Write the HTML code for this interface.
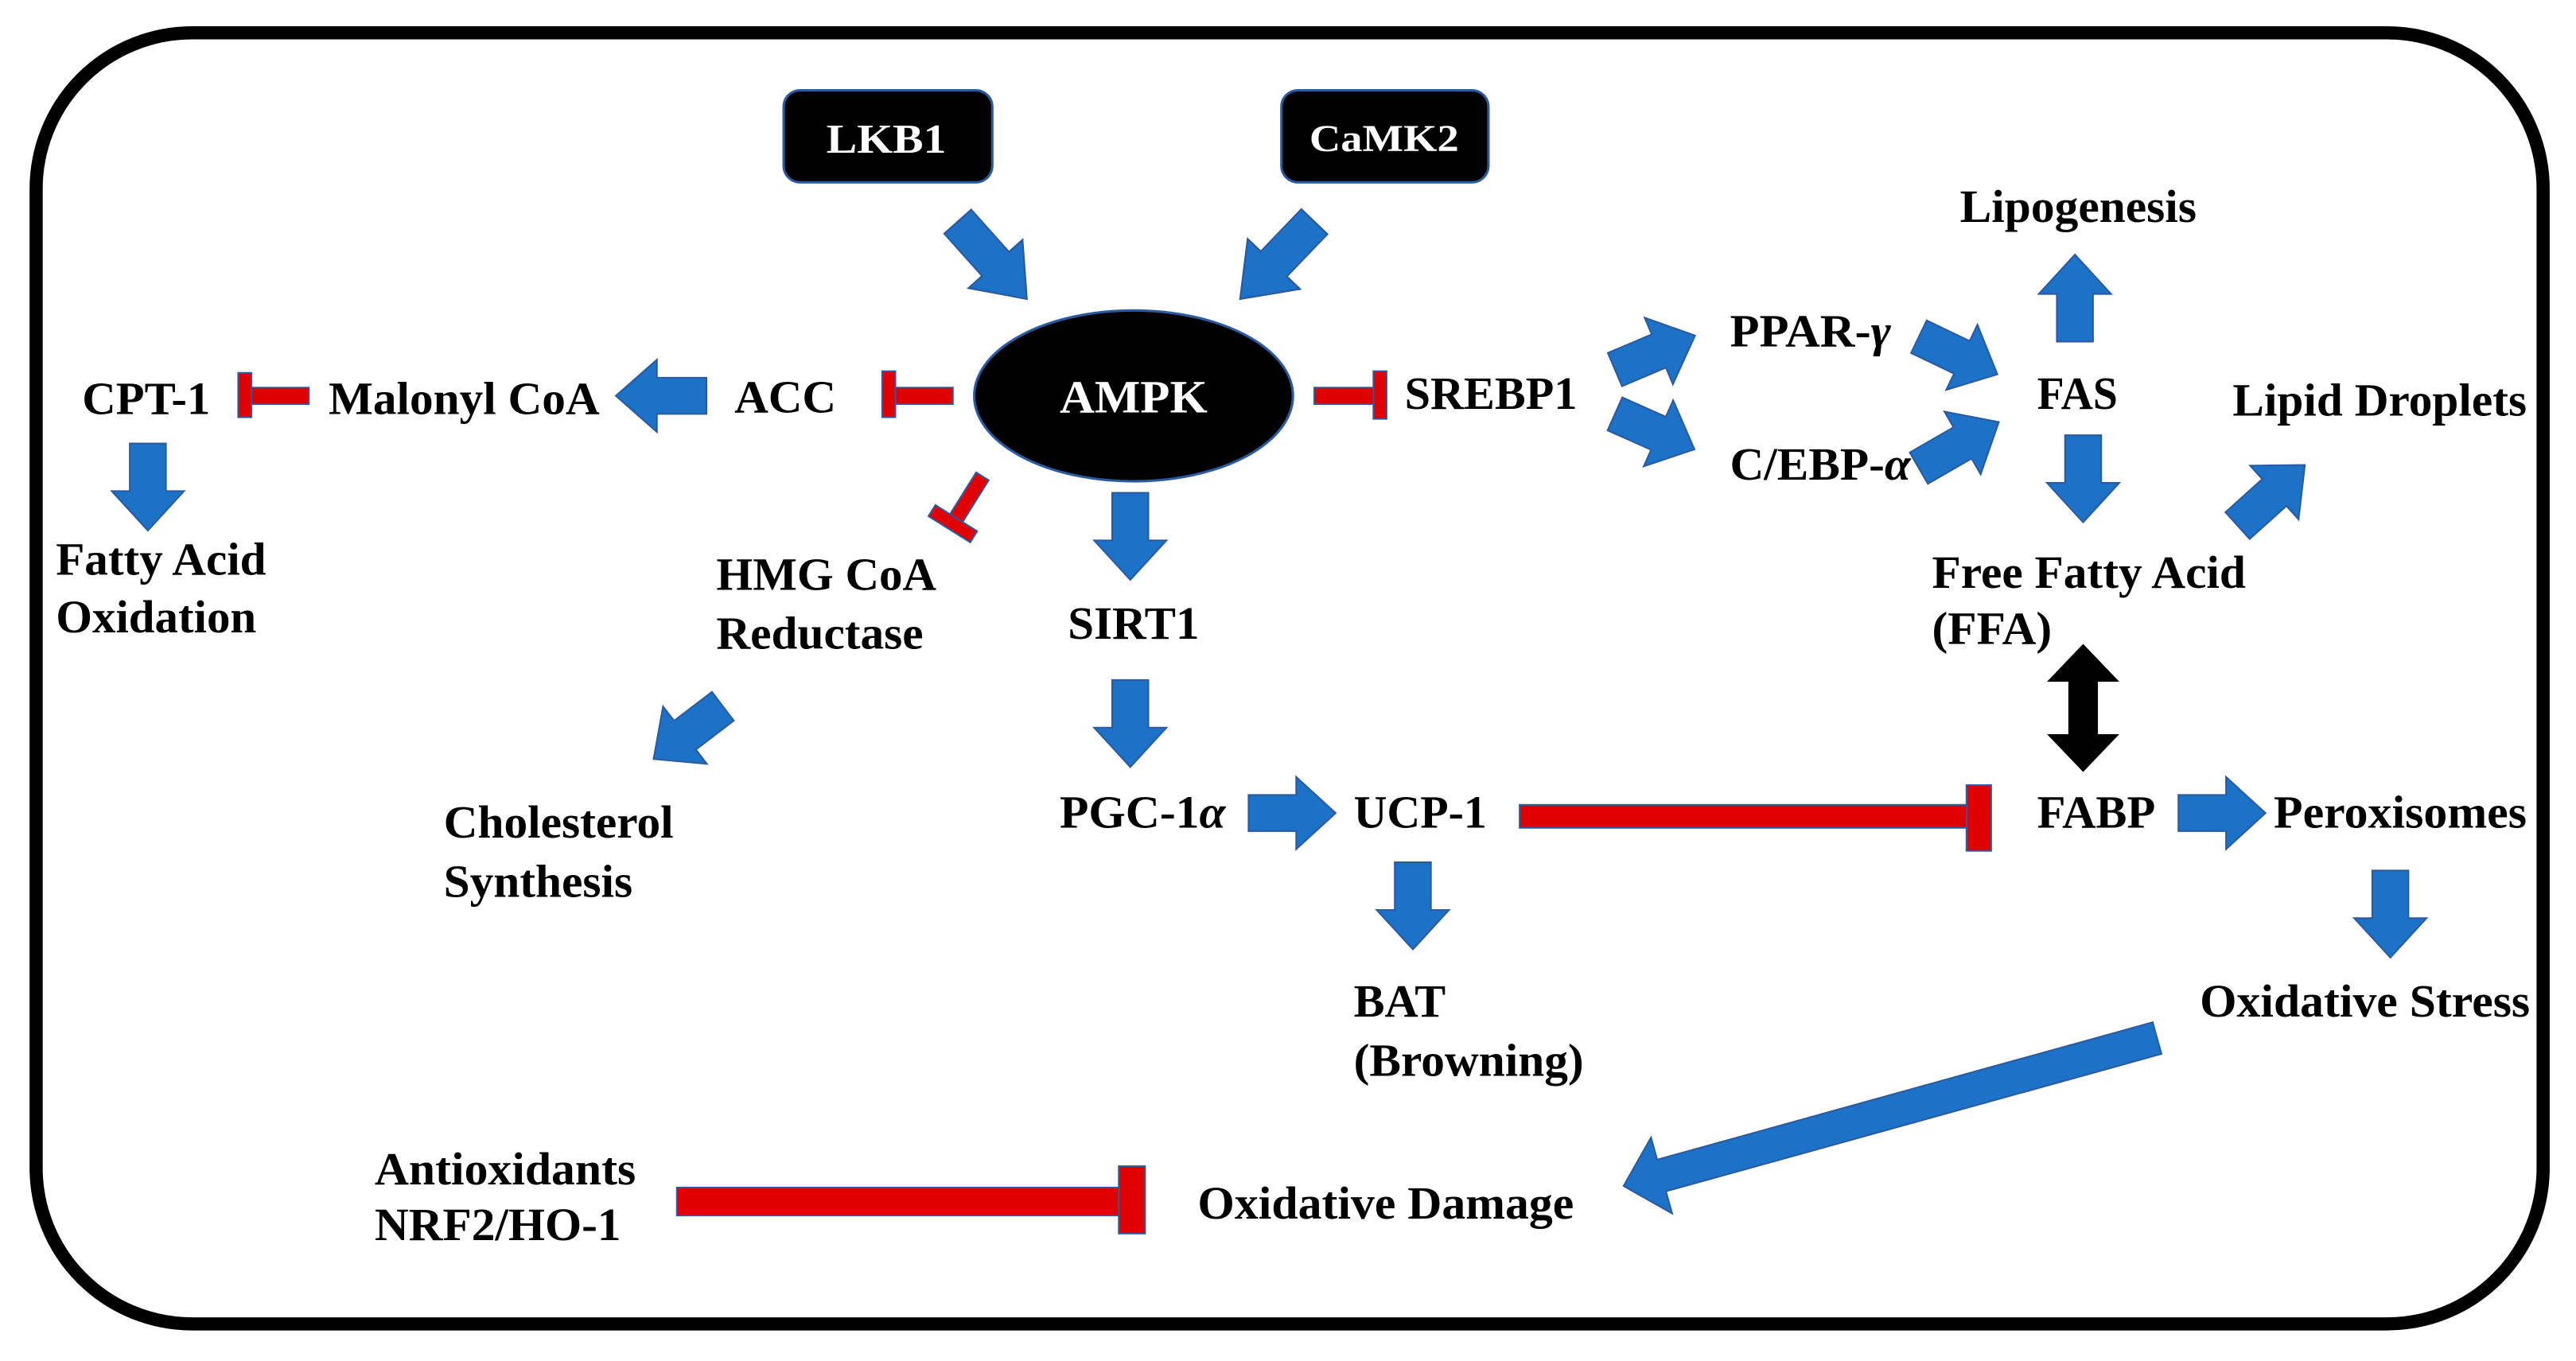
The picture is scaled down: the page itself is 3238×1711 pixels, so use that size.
<!DOCTYPE html>
<html><head><meta charset="utf-8"><style>
html,body{margin:0;padding:0;background:#fff;}
svg{display:block;}
</style></head><body>
<svg width="3238" height="1711" viewBox="0 0 1568 828.6" preserveAspectRatio="none">
<defs>
<polygon id="ar" points="0,-11 29,-11 29,-22 53,0 29,22 29,11 0,11" fill="#1B72C6" stroke="#2C5AA0" stroke-width="1"/>
</defs>
<rect x="22" y="20" width="1526" height="786" rx="95" ry="95" fill="#fff" stroke="#000" stroke-width="8"/>
<g font-family="'Liberation Serif', 'Times New Roman', serif" font-weight="bold">
<rect x="477" y="55" width="127" height="56" rx="10" fill="#000" stroke="#2C5AA0" stroke-width="1.5"/>
<text x="503" y="93" font-size="25" fill="#fff" textLength="73" lengthAdjust="spacingAndGlyphs">LKB1</text>
<rect x="780" y="55" width="126" height="56" rx="10" fill="#000" stroke="#2C5AA0" stroke-width="1.5"/>
<text x="797" y="92" font-size="23" fill="#fff" textLength="91" lengthAdjust="spacingAndGlyphs">CaMK2</text>
<ellipse cx="690" cy="241" rx="97" ry="52" fill="#000" stroke="#2C5AA0" stroke-width="1.5"/>
<text x="645" y="251" font-size="28" fill="#fff" textLength="90" lengthAdjust="spacingAndGlyphs">AMPK</text>
</g>

<g>
<use href="#ar" transform="translate(583,135) rotate(48.2) scale(1.19,1)"/>
<use href="#ar" transform="translate(800,135) rotate(133.8) scale(1.23,1)"/>
<use href="#ar" transform="translate(430,241) rotate(180) scale(1.04,1)"/>
<use href="#ar" transform="translate(90,270) rotate(90)"/>
<use href="#ar" transform="translate(440,430) rotate(142.7)"/>
<use href="#ar" transform="translate(688,300) rotate(90)"/>
<use href="#ar" transform="translate(688,414) rotate(90)"/>
<use href="#ar" transform="translate(760,495)"/>
<use href="#ar" transform="translate(1326,495)"/>
<use href="#ar" transform="translate(860,525) rotate(90)"/>
<use href="#ar" transform="translate(1455,530) rotate(90)"/>
<use href="#ar" transform="translate(983,225) rotate(-23)"/>
<use href="#ar" transform="translate(983,252) rotate(24)"/>
<use href="#ar" transform="translate(1168,205) rotate(25.6)"/>
<use href="#ar" transform="translate(1168,285) rotate(-30) scale(1.06,1)"/>
<use href="#ar" transform="translate(1263,208) rotate(-90)"/>
<use href="#ar" transform="translate(1268,265) rotate(90)"/>
<use href="#ar" transform="translate(1362,320) rotate(-42) scale(1.04,1)"/>
<polygon points="0,-10 313,-10 313,-24 337,0 313,24 313,10 0,10" fill="#1B72C6" stroke="#2C5AA0" stroke-width="1" transform="translate(1313,632) rotate(164.5)"/>
</g>
<polygon points="1268,392 1290,415 1277,415 1277,447 1290,447 1268,470 1246,447 1259,447 1259,415 1246,415" fill="#000"/>

<g fill="#E00000" stroke="#2C5AA0" stroke-width="1">
<rect x="544" y="236" width="36" height="10"/><rect x="537" y="226" width="8" height="28"/>
<rect x="152" y="236" width="36" height="10"/><rect x="145" y="227" width="8" height="27"/>
<rect x="800" y="236" width="38" height="10"/><rect x="836" y="226" width="8" height="29"/>
<g transform="translate(598,290) rotate(122)"><rect x="0" y="-4.5" width="32" height="9"/><rect x="30" y="-15" width="8" height="30"/></g>
<rect x="925" y="490" width="275" height="14"/><rect x="1197" y="478" width="15" height="40"/>
<rect x="412" y="723" width="272" height="17"/><rect x="681" y="710" width="16" height="41"/>
</g>

<g font-family="'Liberation Serif', 'Times New Roman', serif" font-weight="bold" font-size="28" fill="#000" lengthAdjust="spacingAndGlyphs">
<text x="447" y="251" textLength="62" lengthAdjust="spacingAndGlyphs">ACC</text>
<text x="200" y="252" textLength="165" lengthAdjust="spacingAndGlyphs">Malonyl CoA</text>
<text x="50" y="252" textLength="78" lengthAdjust="spacingAndGlyphs">CPT-1</text>
<text x="34" y="350" textLength="128" lengthAdjust="spacingAndGlyphs">Fatty Acid</text>
<text x="34" y="385" textLength="122" lengthAdjust="spacingAndGlyphs">Oxidation</text>
<text x="436" y="359" textLength="134" lengthAdjust="spacingAndGlyphs">HMG CoA</text>
<text x="436" y="395" textLength="126" lengthAdjust="spacingAndGlyphs">Reductase</text>
<text x="270" y="510" textLength="140" lengthAdjust="spacingAndGlyphs">Cholesterol</text>
<text x="270" y="546" textLength="115" lengthAdjust="spacingAndGlyphs">Synthesis</text>
<text x="650" y="389" textLength="80" lengthAdjust="spacingAndGlyphs">SIRT1</text>
<text x="645" y="504" textLength="101" lengthAdjust="spacingAndGlyphs">PGC-1<tspan font-style="italic">α</tspan></text>
<text x="824" y="504" textLength="81" lengthAdjust="spacingAndGlyphs">UCP-1</text>
<text x="824" y="619" textLength="56" lengthAdjust="spacingAndGlyphs">BAT</text>
<text x="824" y="655" textLength="140" lengthAdjust="spacingAndGlyphs">(Browning)</text>
<text x="1240" y="504" textLength="72" lengthAdjust="spacingAndGlyphs">FABP</text>
<text x="1384" y="504" textLength="154" lengthAdjust="spacingAndGlyphs">Peroxisomes</text>
<text x="1339" y="619" textLength="201" lengthAdjust="spacingAndGlyphs">Oxidative Stress</text>
<text x="729" y="742" textLength="229" lengthAdjust="spacingAndGlyphs">Oxidative Damage</text>
<text x="228" y="721" textLength="159" lengthAdjust="spacingAndGlyphs">Antioxidants</text>
<text x="228" y="755" textLength="150" lengthAdjust="spacingAndGlyphs">NRF2/HO-1</text>
<text x="855" y="249" textLength="105" lengthAdjust="spacingAndGlyphs">SREBP1</text>
<text x="1053" y="211" textLength="98" lengthAdjust="spacingAndGlyphs">PPAR-<tspan font-style="italic">γ</tspan></text>
<text x="1053" y="292" textLength="110" lengthAdjust="spacingAndGlyphs">C/EBP-<tspan font-style="italic">α</tspan></text>
<text x="1240" y="249" textLength="49" lengthAdjust="spacingAndGlyphs">FAS</text>
<text x="1193" y="135" textLength="144" lengthAdjust="spacingAndGlyphs">Lipogenesis</text>
<text x="1359" y="253" textLength="179" lengthAdjust="spacingAndGlyphs">Lipid Droplets</text>
<text x="1176" y="358" textLength="191" lengthAdjust="spacingAndGlyphs">Free Fatty Acid</text>
<text x="1176" y="392" textLength="73" lengthAdjust="spacingAndGlyphs">(FFA)</text>
</g>
</svg>
</body></html>
